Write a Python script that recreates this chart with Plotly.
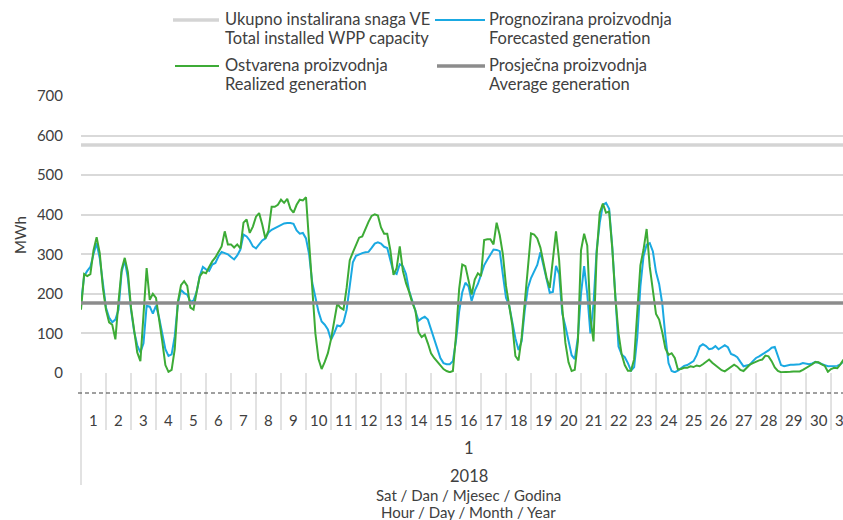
import plotly.graph_objects as go

# ---------------- data ----------------
DAYS = list(range(1, 32))
MONTH_LABEL = "1"
YEAR_LABEL = "2018"
STEP_H = 3  # values read every 3 hours

# Realized generation (MWh), 8 readings per day (00,03,...,21 h)
REALIZED = [
    160, 250, 245, 250, 310, 343, 303, 215,   # 1
    160, 128, 122, 85, 180, 262, 291, 255,    # 2
    165, 110, 52, 30, 140, 265, 185, 200,     # 3
    190, 140, 80, 20, 3, 8, 60, 180,          # 4
    222, 232, 220, 165, 160, 205, 244, 255,   # 5
    252, 268, 282, 292, 308, 320, 358, 325,   # 6
    325, 317, 325, 315, 380, 388, 354, 370,   # 7
    395, 404, 375, 340, 360, 420, 420, 425,   # 8
    438, 430, 440, 415, 405, 425, 438, 436,   # 9
    444, 330, 200, 100, 35, 10, 28, 50,       # 10
    85, 130, 175, 165, 160, 215, 285, 305,    # 11
    325, 342, 345, 365, 382, 397, 401, 398,   # 12
    368, 352, 352, 310, 248, 265, 320, 258,   # 13
    227, 205, 178, 158, 103, 91, 97, 75,      # 14
    50, 38, 29, 21, 10, 5, 2, 5,              # 15
    95, 212, 274, 270, 238, 198, 236, 252,    # 16
    245, 336, 338, 338, 325, 380, 348, 300,   # 17
    220, 176, 122, 43, 32, 90, 180, 270,      # 18
    353, 350, 340, 317, 274, 240, 215, 290,   # 19
    358, 285, 165, 76, 27, 5, 8, 80,          # 20
    310, 352, 322, 140, 80, 300, 405, 428,    # 21
    405, 408, 315, 190, 100, 47, 20, 6,       # 22
    6, 35, 150, 272, 312, 364, 268, 214,      # 23
    149, 135, 103, 62, 46, 50, 38, 9,         # 24
    10, 13, 13, 17, 15, 19, 17, 22,           # 25
    28, 34, 26, 20, 12, 7, 4, 10,             # 26
    17, 21, 16, 8, 5, 12, 21, 25,             # 27
    29, 32, 34, 44, 42, 30, 14, 5,            # 28
    2, 2, 3, 3, 4, 4, 4, 8,                   # 29
    12, 17, 22, 28, 27, 22, 18, 3,            # 30
    10, 13, 12, 22, 34,                       # 31
]

# Forecasted generation (MWh)
FORECAST = [
    175, 245, 258, 268, 300, 328, 290, 230,   # 1
    165, 140, 128, 135, 160, 255, 285, 240,   # 2
    160, 105, 70, 52, 75, 170, 168, 150,      # 3
    170, 140, 95, 60, 43, 47, 93, 175,        # 4
    210, 202, 198, 180, 183, 205, 245, 268,   # 5
    262, 258, 274, 278, 295, 306, 303, 300,   # 6
    293, 287, 297, 312, 350, 345, 335, 320,   # 7
    315, 324, 335, 340, 355, 362, 366, 372,   # 8
    376, 378, 379, 379, 377, 360, 352, 354,   # 9
    340, 300, 228, 188, 155, 130, 122, 110,   # 10
    84, 100, 120, 118, 128, 160, 225, 280,    # 11
    296, 300, 303, 305, 306, 316, 327, 330,   # 12
    327, 319, 316, 285, 255, 250, 275, 270,   # 13
    250, 208, 182, 155, 132, 138, 142, 135,   # 14
    112, 85, 62, 38, 25, 22, 22, 30,          # 15
    82, 155, 204, 228, 219, 182, 208, 225,    # 16
    248, 272, 286, 298, 312, 311, 308, 248,   # 17
    190, 171, 130, 88, 58, 80, 158, 215,      # 18
    240, 258, 273, 305, 271, 232, 203, 205,   # 19
    271, 250, 150, 118, 78, 45, 35, 90,       # 20
    200, 270, 200, 100, 175, 310, 380, 425,   # 21
    430, 415, 320, 177, 67, 47, 40, 25,       # 22
    6, 15, 90, 219, 295, 324, 328, 307,       # 23
    255, 225, 175, 93, 25, 5, 2, 6,           # 24
    12, 18, 20, 24, 30, 45, 67, 73,           # 25
    68, 60, 62, 68, 60, 65, 70, 65,           # 26
    48, 45, 40, 28, 17, 19, 21, 30,           # 27
    38, 42, 48, 52, 57, 64, 66, 40,           # 28
    20, 17, 20, 21, 21, 21, 22, 25,           # 29
    23, 22, 24, 28, 26, 22, 20, 17,           # 30
    17, 17, 18, 22, 29,                       # 31
]

CAPACITY = 576   # total installed WPP capacity
AVERAGE = 177    # average generation
Y_TICKS = [0, 100, 200, 300, 400, 500, 600, 700]

LEGEND_ITEMS = [
    ("Ukupno instalirana snaga VE", "Total installed WPP capacity"),
    ("Prognozirana proizvodnja", "Forecasted generation"),
    ("Ostvarena proizvodnja", "Realized generation"),
    ("Prosječna proizvodnja", "Average generation"),
]
X_TITLE = ("Sat / Dan / Mjesec / Godina", "Hour / Day / Month / Year")
Y_TITLE = "MWh"

# ---------------- styling / layout ----------------
W, H = 843, 520
ML, MT, MB, MR = 81, 96, 147, 0
PLOT_W = W - ML - MR
PLOT_H = H - MT - MB
X_VISIBLE_END = 731.5  # the chart is cropped at the right edge (day 31 partly hidden)

C_CAP = "#D4D4D4"
C_FC = "#1AA9E2"
C_RE = "#3DAB36"
C_AVG = "#8C8C8C"
C_TXT = "#404040"
C_GRID = "#D9D9D9"
FONT = "Lato"
FS = 15      # tick labels / axis titles
FS_L = 16.5  # legend, month, year


def px_x(p):
    return (p - ML) / PLOT_W


def px_y(p):
    return (H - MB - p) / PLOT_H


def hx(h):
    return h / X_VISIBLE_END


HOURS = [i * STEP_H for i in range(len(REALIZED))]
HOURS_FC = [i * STEP_H for i in range(len(FORECAST))]
END_H = len(DAYS) * 24

fig = go.Figure()
fig.add_trace(go.Scatter(x=[0, END_H], y=[CAPACITY, CAPACITY], mode="lines",
                         line=dict(color=C_CAP, width=3.5), name=LEGEND_ITEMS[0][0],
                         hoverinfo="skip"))
fig.add_trace(go.Scatter(x=HOURS_FC, y=FORECAST, mode="lines",
                         line=dict(color=C_FC, width=2), name=LEGEND_ITEMS[1][0]))
fig.add_trace(go.Scatter(x=HOURS, y=REALIZED, mode="lines",
                         line=dict(color=C_RE, width=2), name=LEGEND_ITEMS[2][0]))
fig.add_trace(go.Scatter(x=[0, END_H], y=[AVERAGE, AVERAGE], mode="lines",
                         line=dict(color=C_AVG, width=3.5), name=LEGEND_ITEMS[3][0],
                         hoverinfo="skip"))

annotations = []
shapes = []

# legend (manual, 2 x 2 layout)
legend_pos = [
    (173, 219, 223, 20, C_CAP, 3.5),
    (435, 485, 487, 20, C_FC, 2),
    (175, 219, 223, 66, C_RE, 2),
    (437, 485, 487, 66, C_AVG, 3.5),
]
for (l0, l1, tx, ty, col, lw), (t1, t2) in zip(legend_pos, LEGEND_ITEMS):
    shapes.append(dict(type="line", xref="paper", yref="paper",
                       x0=px_x(l0), x1=px_x(l1), y0=px_y(ty), y1=px_y(ty),
                       line=dict(color=col, width=lw)))
    annotations.append(dict(xref="paper", yref="paper", x=px_x(tx), y=px_y(ty - 1),
                            text=t1, showarrow=False, xanchor="left", yanchor="middle",
                            font=dict(family=FONT, size=FS_L, color=C_TXT)))
    annotations.append(dict(xref="paper", yref="paper", x=px_x(tx), y=px_y(ty + 18),
                            text=t2, showarrow=False, xanchor="left", yanchor="middle",
                            font=dict(family=FONT, size=FS_L, color=C_TXT)))

# category axis: day labels + separators
for i, d in enumerate(DAYS):
    annotations.append(dict(xref="paper", yref="paper", x=hx(i * 24 + 12), y=px_y(420),
                            text=str(d), showarrow=False, xanchor="center", yanchor="middle",
                            font=dict(family=FONT, size=FS, color=C_TXT)))
for i in range(len(DAYS) + 1):
    bottom = 485 if i == 0 else 430
    shapes.append(dict(type="line", xref="paper", yref="paper",
                       x0=hx(i * 24), x1=hx(i * 24), y0=0, y1=px_y(bottom),
                       line=dict(color=C_GRID, width=1.5)))

mid = hx(END_H / 2)
for txt, yy, fs in ((MONTH_LABEL, 448, FS_L), (YEAR_LABEL, 476, FS_L),
                    (X_TITLE[0], 495, FS), (X_TITLE[1], 512, FS)):
    annotations.append(dict(xref="paper", yref="paper", x=mid, y=px_y(yy), text=txt,
                            showarrow=False, xanchor="center", yanchor="middle",
                            font=dict(family=FONT, size=fs, color=C_TXT)))

# y title
annotations.append(dict(xref="paper", yref="paper", x=px_x(20), y=px_y(235), text=Y_TITLE,
                        textangle=-90, showarrow=False, xanchor="center", yanchor="middle",
                        font=dict(family=FONT, size=FS, color=C_TXT)))

# dashed horizontal axis line below the plot
shapes.append(dict(type="line", xref="paper", yref="paper", x0=px_x(78), x1=1.0,
                   y0=px_y(393), y1=px_y(393),
                   line=dict(color=C_TXT, width=1, dash="4px,3px")))

fig.update_layout(
    width=W, height=H,
    margin=dict(l=ML, r=MR, t=MT, b=MB, autoexpand=False),
    paper_bgcolor="white", plot_bgcolor="white",
    showlegend=False,
    font=dict(family=FONT, size=FS, color=C_TXT),
    xaxis=dict(range=[0, X_VISIBLE_END], showgrid=False, showticklabels=False,
               zeroline=False, showline=False, ticks=""),
    yaxis=dict(range=[0, 700], tickvals=Y_TICKS, showgrid=True, gridcolor=C_GRID,
               gridwidth=1.5, zeroline=False, showline=False,
               ticks="outside", ticklen=14, tickcolor="rgba(0,0,0,0)",
               tickfont=dict(family=FONT, size=FS, color=C_TXT)),
    annotations=annotations,
    shapes=shapes,
)

fig.write_html("out.html", config={"displayModeBar": False},
               post_script="document.body.style.margin='0';")
